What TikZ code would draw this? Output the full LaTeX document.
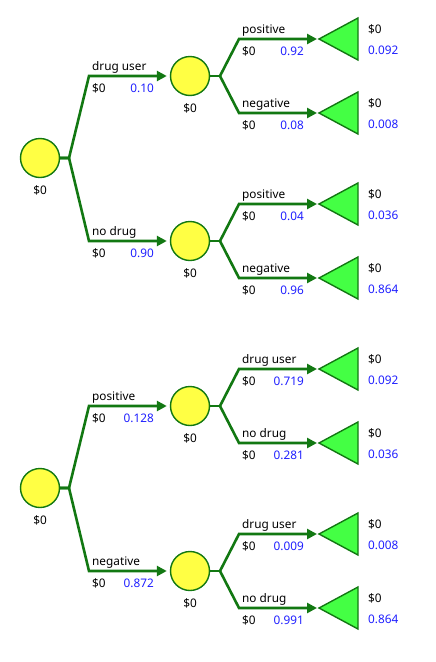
\documentclass[tikz,border=0pt]{standalone}
\usepackage{fontspec}
\setmainfont{Noto Sans}
\usetikzlibrary{arrows.meta}
\definecolor{lg}{RGB}{18,120,18}
\definecolor{cy}{RGB}{255,255,68}
\definecolor{tg}{RGB}{68,255,68}
\definecolor{pb}{RGB}{30,30,255}
\tikzset{
  chance/.style={circle, draw=lg, line width=1.4pt, fill=cy, minimum size=39pt, inner sep=0pt},
  edge/.style={draw=lg, line width=2.6pt},
  arr/.style={edge, -{Triangle[length=10pt,width=10pt]}},
  term/.style={draw=lg, line width=1.4pt, fill=tg, line join=miter},
  lbl/.style={font=\fontsize{11.8}{14}\selectfont, inner sep=0pt, anchor=base west},
  prob/.style={lbl, text=pb, anchor=base east},
  clbl/.style={lbl, anchor=base},
}
% second-level branch: #1 junction, #2 id, #3 y, #4 label, #5 prob, #6 terminal prob
\newcommand{\leafbranch}[6]{%
  \coordinate (k#2) at (239,#3);
  \node[coordinate] (t#2) at (319,#3) {};
  \draw[arr] (#1) -- (k#2) -- ([xshift=-2pt]t#2);
  \draw[term] (t#2) -- ++(39,-21) -- ++(0,42) -- cycle;
  \node[lbl] (l#2) at (242,#3-6) {#4};
  \node[lbl] (v#2) at (242,#3+16.5) {\$0};
  \node[prob] (p#2) at (304,#3+16.5) {#5};
  \node[lbl] (e#2) at (368,#3-6) {\$0};
  \node[lbl,text=pb] (q#2) at (368,#3+15) {#6};
}
% first-level branch: #1 root node, #2 id, #3 y, #4 label, #5 prob, #6 junction
\newcommand{\midbranch}[6]{%
  \coordinate (k#2) at (89,#3);
  \node[chance] (c#2) at (190,#3) {};
  \node[clbl] (cv#2) at (190,#3+36.5) {\$0};
  \draw[arr] (#1.east) -- (#6) -- (k#2) -- ([xshift=-3pt]c#2.west);
  \node[lbl] (l#2) at (92,#3-6) {#4};
  \node[lbl] (v#2) at (92,#3+16.5) {\$0};
  \node[prob] (p#2) at (154,#3+16.5) {#5};
  \coordinate (j#2) at (220,#3);
  \draw[edge] (c#2.east) -- (j#2);
}
\begin{document}
\begin{tikzpicture}[x=1pt,y=-1pt]
\useasboundingbox (0,0) rectangle (436,662);
% ---------- top tree ----------
\node[chance] (r1) at (40,158) {};
\node[clbl] (rv1) at (40,158+36.5) {\$0};
\coordinate (j1) at (69,158);
\midbranch{r1}{A}{76}{drug user}{0.10}{j1}
\midbranch{r1}{B}{241}{no drug}{0.90}{j1}
\leafbranch{jA}{A1}{39}{positive}{0.92}{0.092}
\leafbranch{jA}{A2}{113}{negative}{0.08}{0.008}
\leafbranch{jB}{B1}{204}{positive}{0.04}{0.036}
\leafbranch{jB}{B2}{278}{negative}{0.96}{0.864}
% ---------- bottom tree ----------
\node[chance] (r2) at (40,488) {};
\node[clbl] (rv2) at (40,488+36.5) {\$0};
\coordinate (j2) at (69,488);
\midbranch{r2}{C}{406}{positive}{0.128}{j2}
\midbranch{r2}{D}{571}{negative}{0.872}{j2}
\leafbranch{jC}{C1}{369}{drug user}{0.719}{0.092}
\leafbranch{jC}{C2}{443}{no drug}{0.281}{0.036}
\leafbranch{jD}{D1}{534}{drug user}{0.009}{0.008}
\leafbranch{jD}{D2}{608}{no drug}{0.991}{0.864}
\end{tikzpicture}
\end{document}
